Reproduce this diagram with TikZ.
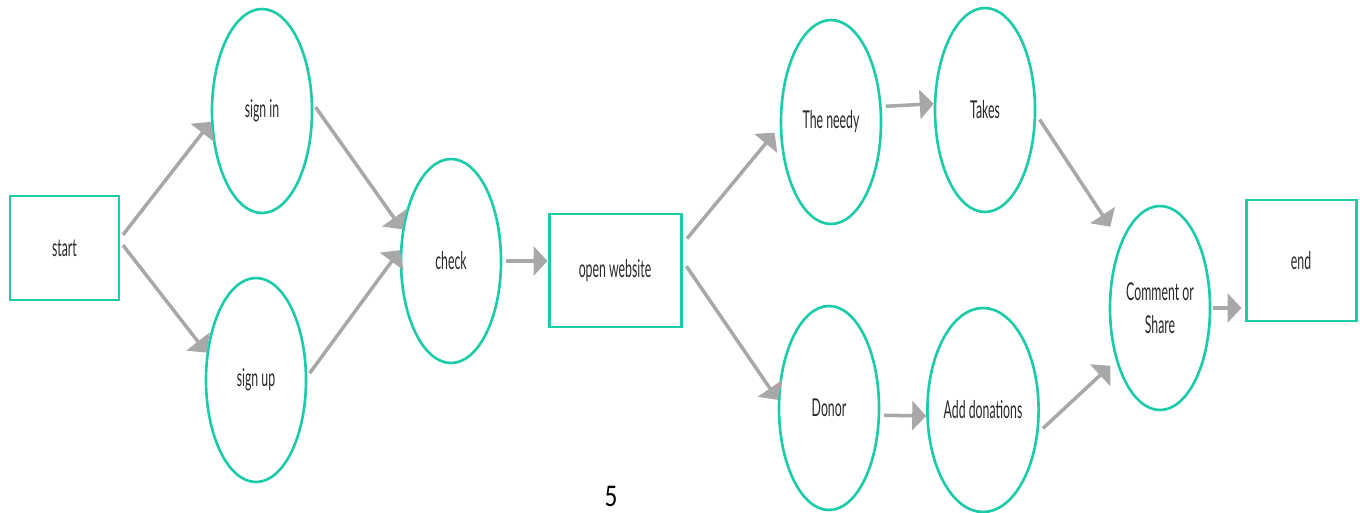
\documentclass[tikz,border=0pt]{standalone}
\usepackage{fontspec}
\setmainfont[FakeStretch=0.5]{Lato}
\newfontfamily\pagefont[FakeStretch=0.8]{Carlito}
\usetikzlibrary{arrows.meta}
\usetikzlibrary{shapes.geometric}
\definecolor{mint}{RGB}{28,204,168}
\definecolor{arrowgray}{RGB}{168,168,168}
\definecolor{txtgray}{RGB}{40,40,40}

\begin{document}
\begin{tikzpicture}
  \tikzset{stepnode/.style = {shape=ellipse,draw=mint,line width=1.5pt,minimum width=2cm,minimum height=4.08cm,inner sep=0pt,text=txtgray,font=\fontsize{14}{19}\selectfont,align=center}}
  \tikzset{termnode/.style = {shape=rectangle,draw=mint,line width=1.7pt,inner sep=0pt,text=txtgray,font=\fontsize{14}{19}\selectfont}}
  \tikzset{flow/.style = {draw=arrowgray,line width=2pt,-{Triangle[length=0.28cm,width=0.58cm]},shorten <=0.08cm}}
  \useasboundingbox (0,0) rectangle (27.2,10.24);

	\node[termnode,minimum width=2.18cm,minimum height=2.08cm] (start) at (1.29,5.28) {start};
	\node[stepnode] (signin) at (5.24,8.02) {sign in};
	\node[stepnode] (signup) at (5.12,2.64) {sign up};
	\node[stepnode] (check) at (9.02,5.02) {check};
	\node[termnode,minimum width=2.64cm,minimum height=2.26cm] (openweb) at (12.30,4.83) {open website};
	\node[stepnode] (needy) at (16.62,7.80) {The needy};
	\node[stepnode] (takes) at (19.70,8.04) {Takes};
	\node[stepnode] (donor) at (16.58,2.08) {Donor};
	\node[stepnode] (adddon) at (19.66,2.04) {Add donations};
	\node[stepnode] (comment) at (23.20,4.08) {Comment or\\Share};
	\node[termnode,minimum width=2.2cm,minimum height=2.42cm] (end) at (26.02,5.03) {end};
	\node[font=\pagefont\fontsize{18}{20}\selectfont,inner sep=0pt,anchor=base] (pagenum) at (12.22,0.12) {5};

    \foreach \from/\to in {signin.8/check.147, signup.4/check.168, needy.17/takes.173, donor.-8/adddon.186}
    \draw[flow] (\from) -- (\to);

    \draw[flow] ([yshift=0.2cm]start.east) -- (signin.192);
    \draw[flow] ([yshift=0.12cm]start.east) -- (signup.151);
    \draw[flow] (check.east) -- (check.east -| openweb.west);
    \draw[flow,shorten <=0.14cm,shorten >=0.16cm] ([yshift=0.53cm]openweb.east) -- (needy.185);
    \draw[flow,shorten <=0.14cm] ([yshift=0.2cm]openweb.east) -- (donor.171);
    \draw[flow,shorten <=0.12cm,shorten >=0.37cm] (takes.-5) -- (comment.121);
    \draw[flow,shorten <=0.12cm,shorten >=0.15cm] (adddon.-22) -- (comment.230);
    \draw[flow,shorten <=0.04cm,shorten >=0.06cm] (comment.east) -- (comment.east -| end.west);

\end{tikzpicture}
\end{document}
